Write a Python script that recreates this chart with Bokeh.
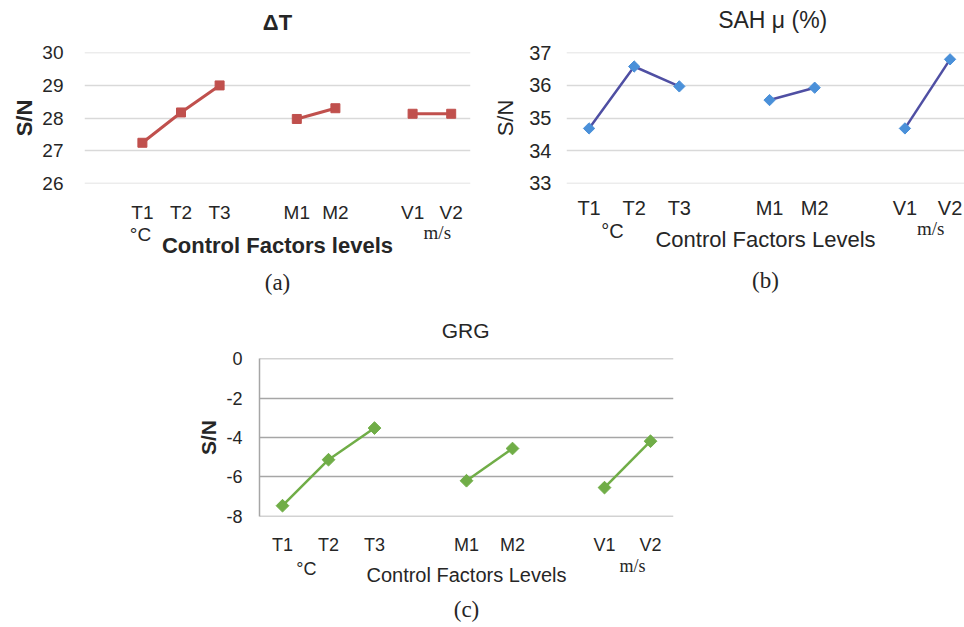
import math
from bokeh.plotting import figure
from bokeh.models import Range1d, FixedTicker, Spacer, LinearAxis, Title
from bokeh.layouts import column, row
from bokeh.embed import file_html
from bokeh.resources import INLINE

# ---- data ----
levels = ["T1", "T2", "T3", "M1", "M2", "V1", "V2"]
groups = [["T1", "T2", "T3"], ["M1", "M2"], ["V1", "V2"]]
cats_a = ["", "T1", "T2", "T3", "", "M1", "M2", "", "V1", "V2"]
cats_bc = ["T1", "T2", "T3", "", "M1", "M2", "", "V1", "V2"]
dT_sn = [27.24, 28.17, 29.00, 27.97, 28.30, 28.13, 28.13]
sah_sn = [34.68, 36.58, 35.97, 35.55, 35.93, 34.68, 36.80]
grg_sn = [-7.47, -5.13, -3.52, -6.20, -4.56, -6.55, -4.19]
yticks_a = [26, 27, 28, 29, 30]
yticks_b = [33, 34, 35, 36, 37]
yticks_c = [-8, -6, -4, -2, 0]
ylabels_c = ["-8", "-6", "-4", "-2", "0"]
# where the unit notes and the titles sit along each category axis
unit_pos_a = {"°C": 0.95, "m/s": 8.64}
unit_pos_b = {"°C": 0.52, "m/s": 7.57}
unit_pos_c = {"°C": 0.52, "m/s": 7.61}
title_pos = {"a": 4.5, "b": 4.07, "c": 3.98}

SANS = "Liberation Sans"
SERIF = "Liberation Serif"
TXT = "#262626"


def base_fig(w, h, left, right, top, bottom, xr, yr):
    p = figure(width=w, height=h, x_range=xr, y_range=yr,
               output_backend="svg", toolbar_location=None,
               min_border_left=left, min_border_right=right,
               min_border_top=top, min_border_bottom=bottom)
    p.outline_line_color = None
    p.background_fill_color = "white"
    p.border_fill_color = "white"
    return p


def bare_axis(ax):
    ax.major_tick_out = 0
    ax.major_tick_in = 0
    ax.minor_tick_out = 0
    ax.minor_tick_in = 0
    ax.axis_line_color = None
    ax.major_label_text_color = TXT
    ax.axis_label_text_color = TXT


def style_axes(p, cats, yticks, tick_fs, ystand, xstand, ylab, ylab_style, ylab_fs,
               ylab_stand, grid_color, ylabels=None):
    idx = [i for i, c in enumerate(cats) if c]
    xa = p.xaxis[0]
    bare_axis(xa)
    xa.ticker = FixedTicker(ticks=idx)
    xa.major_label_overrides = {i: cats[i] for i in idx}
    xa.major_label_text_font = SANS
    xa.major_label_text_font_size = tick_fs
    xa.major_label_standoff = xstand
    ya = p.yaxis[0]
    bare_axis(ya)
    ya.ticker = FixedTicker(ticks=yticks)
    if ylabels is not None:
        ya.major_label_overrides = {t: s for t, s in zip(yticks, ylabels)}
    ya.major_label_text_font = SANS
    ya.major_label_text_font_size = tick_fs
    ya.major_label_standoff = ystand
    ya.axis_label = ylab
    ya.axis_label_text_font = SANS
    ya.axis_label_text_font_size = ylab_fs
    ya.axis_label_text_font_style = ylab_style
    ya.axis_label_standoff = ylab_stand
    p.xgrid.grid_line_color = None
    p.ygrid.grid_line_color = grid_color
    p.ygrid.grid_line_width = 1.5


def unit_axes(p, pos, fs_c, st_c, fs_m, st_m, xlab, xlab_style, xlab_fs, xlab_st):
    a1 = LinearAxis(ticker=FixedTicker(ticks=[pos["°C"]]),
                    major_label_overrides={pos["°C"]: "°C"})
    bare_axis(a1)
    a1.major_label_text_font = SANS
    a1.major_label_text_font_size = fs_c
    a1.major_label_standoff = st_c
    p.add_layout(a1, "below")
    a2 = LinearAxis(ticker=FixedTicker(ticks=[pos["m/s"]]),
                    major_label_overrides={pos["m/s"]: "m/s"})
    bare_axis(a2)
    a2.major_label_text_font = SERIF
    a2.major_label_text_font_size = fs_m
    a2.major_label_standoff = st_m
    a2.axis_label = xlab
    a2.axis_label_text_font = SANS
    a2.axis_label_text_font_size = xlab_fs
    a2.axis_label_text_font_style = xlab_style
    a2.axis_label_standoff = xlab_st
    p.add_layout(a2, "below")


def titles(p, pos, text, font_size, style, standoff, sub, sub_standoff):
    ax = LinearAxis(ticker=FixedTicker(ticks=[pos]),
                    major_label_overrides={pos: text})
    bare_axis(ax)
    ax.major_label_text_font = SANS
    ax.major_label_text_font_size = font_size
    ax.major_label_text_font_style = style
    ax.major_label_standoff = standoff
    p.add_layout(ax, "above")
    p.add_layout(Title(text=sub, align="center", text_font=SERIF,
                       text_font_size="23px", text_font_style="normal",
                       text_color=TXT, standoff=sub_standoff), "below")


def draw_series(p, cats, vals, line_color, line_w, marker_color, marker, size, angle):
    lookup = dict(zip(levels, vals))
    for g in groups:
        xs = [cats.index(c) for c in g]
        ys = [lookup[c] for c in g]
        p.line(xs, ys, line_color=line_color, line_width=line_w)
        p.scatter(xs, ys, marker=marker, size=size, angle=angle,
                  fill_color=marker_color, line_color=marker_color)


H1 = 303
# ---- panel (a) ----  frame: x 84..470, y 52..185
pa = base_fig(480, H1, 84, 10, 52, 118, Range1d(-0.5, 9.5), Range1d(25.99, 30.01))
style_axes(pa, cats_a, yticks_a, "19px", 21, 18, "S/N", "bold", "22px", 2, "#D9D9D9")
unit_axes(pa, unit_pos_a, "19px", -2, "19px", -26,
          "Control Factors levels", "bold", "22px", -13)
titles(pa, title_pos["a"], "ΔT", "22px", "bold", 18, "(a)", 14)
draw_series(pa, cats_a, dT_sn, "#C0504D", 3, "#C0504D", "square", 9, 0)

# ---- panel (b) ----  frame: x 566..964, y 51..183
pb = base_fig(484, H1, 86, 0, 51, 120, Range1d(-0.5, 8.32), Range1d(32.99, 37.01))
style_axes(pb, cats_bc, yticks_b, "20px", 15, 13, "S/N", "normal", "22px", 8, "#D9D9D9")
unit_axes(pb, unit_pos_b, "20px", -2, "19px", -27,
          "Control Factors Levels", "normal", "22px", -15)
titles(pb, title_pos["b"], "SAH μ (%)", "23px", "normal", 20, "(b)", 22)
draw_series(pb, cats_bc, sah_sn, "#4F4FA3", 2.5, "#4A90D9", "square", 8, math.pi / 4)

# ---- panel (c) ----  frame: x 259..673, y 358..518
H2 = 627 - H1
pc = base_fig(530, H2, 81, 35, 55, 109, Range1d(-0.5, 8.5), Range1d(-8.02, 0.02))
style_axes(pc, cats_bc, yticks_c, "18px", 17, 18, "S/N", "bold", "21px", 3, "#A6A6A6",
           ylabels=ylabels_c)
pc.yaxis[0].axis_line_color = "#A6A6A6"
pc.yaxis[0].axis_line_width = 1.5
unit_axes(pc, unit_pos_c, "18px", 1, "18px", -26,
          "Control Factors Levels", "normal", "20px", -15)
titles(pc, title_pos["c"], "GRG", "21px", "normal", 17, "(c)", 12)
draw_series(pc, cats_bc, grg_sn, "#70AD47", 2.5, "#70AD47", "square", 9, math.pi / 4)

layout = column(row(pa, pb), row(Spacer(width=178, height=H2), pc))

with open("out.html", "w") as f:
    f.write(file_html(layout, INLINE))
